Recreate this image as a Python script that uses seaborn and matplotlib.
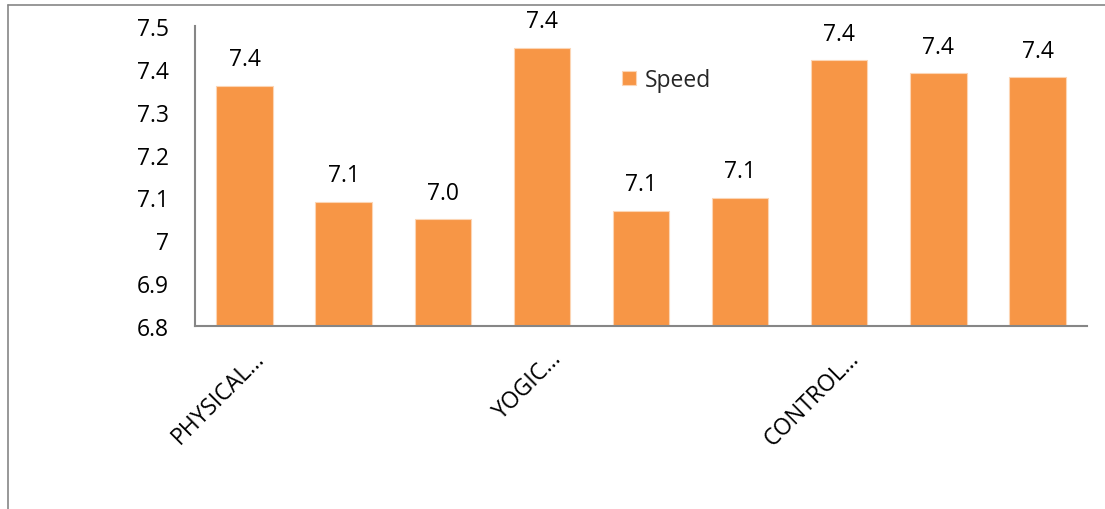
import matplotlib
matplotlib.use("Agg")
import matplotlib.pyplot as plt
from matplotlib.lines import Line2D
import seaborn as sns
import pandas as pd

# Speed scores per group/test (nine bars, every third one is labelled)
categories = ["PHYSICAL…", "PHYSICAL 2", "PHYSICAL 3",
              "YOGIC…", "YOGIC 2", "YOGIC 3",
              "CONTROL…", "CONTROL 2", "CONTROL 3"]
shown_labels = ["PHYSICAL…", "", "", "YOGIC…", "", "", "CONTROL…", "", ""]
speed = [7.36, 7.09, 7.049, 7.449, 7.069, 7.099, 7.42, 7.39, 7.38]
y_ticks = [6.8, 6.9, 7.0, 7.1, 7.2, 7.3, 7.4, 7.5]

sns.set_theme(style="white")
plt.rcParams["font.family"] = ["Open Sans", "DejaVu Sans"]

bar_color = "#F79646"
axis_gray = "#868686"

df = pd.DataFrame({"category": categories, "speed": speed})

fig = plt.figure(figsize=(11.05, 5.1), dpi=100)
ax = fig.add_axes([195 / 1105, 1 - 327 / 510, (1087 - 195) / 1105, 300 / 510])

sns.barplot(data=df, x="category", y="speed", color=bar_color, width=0.57,
            edgecolor="#FCD5B4", linewidth=0.8, saturation=1, ax=ax,
            label="Speed")

ax.set_ylim(6.8, 7.5)
ax.set_xlim(-0.5, len(categories) - 0.5)
ax.set_yticks(y_ticks)
ax.set_yticklabels([f"{t:g}" for t in y_ticks], fontsize=16.5)
ax.set_xlabel("")
ax.set_ylabel("")

# category labels, rotated, with their upper-right end just below each bar
ax.set_xticks(range(len(categories)))
ax.set_xticklabels([])
for i, name in enumerate(shown_labels):
    if name:
        ax.annotate(name, xy=(i, 0), xycoords=ax.get_xaxis_transform(),
                    xytext=(6, -14.5), textcoords="offset points",
                    rotation=45, rotation_mode="anchor", ha="right", va="top",
                    fontsize=16.5, color="black", annotation_clip=False)

ax.tick_params(axis="both", length=0, colors="black")
ax.tick_params(axis="y", pad=19)

for side in ["top", "right"]:
    ax.spines[side].set_visible(False)
for side in ["left", "bottom"]:
    ax.spines[side].set_color(axis_gray)
    ax.spines[side].set_linewidth(1.5)

# value labels above each bar
for i, v in enumerate(speed):
    ax.annotate(f"{v:.1f}", xy=(i, v), xytext=(0, 10.5), textcoords="offset points",
                ha="center", va="bottom", fontsize=16.5, color="black")

leg = ax.legend(loc="center left", bbox_to_anchor=(427 / 892, 0.82), frameon=False,
                fontsize=16.5, handlelength=0.6, handleheight=0.6, handletextpad=0.4,
                borderaxespad=0, borderpad=0)

# outer chart frame
fig.add_artist(Line2D([8 / 1105, 8 / 1105], [0, 1 - 6 / 510], transform=fig.transFigure,
                      color=axis_gray, linewidth=1.2))
fig.add_artist(Line2D([8 / 1105, 1], [1 - 6 / 510, 1 - 6 / 510], transform=fig.transFigure,
                      color=axis_gray, linewidth=1.2))

fig.savefig("out.png", dpi=100)
